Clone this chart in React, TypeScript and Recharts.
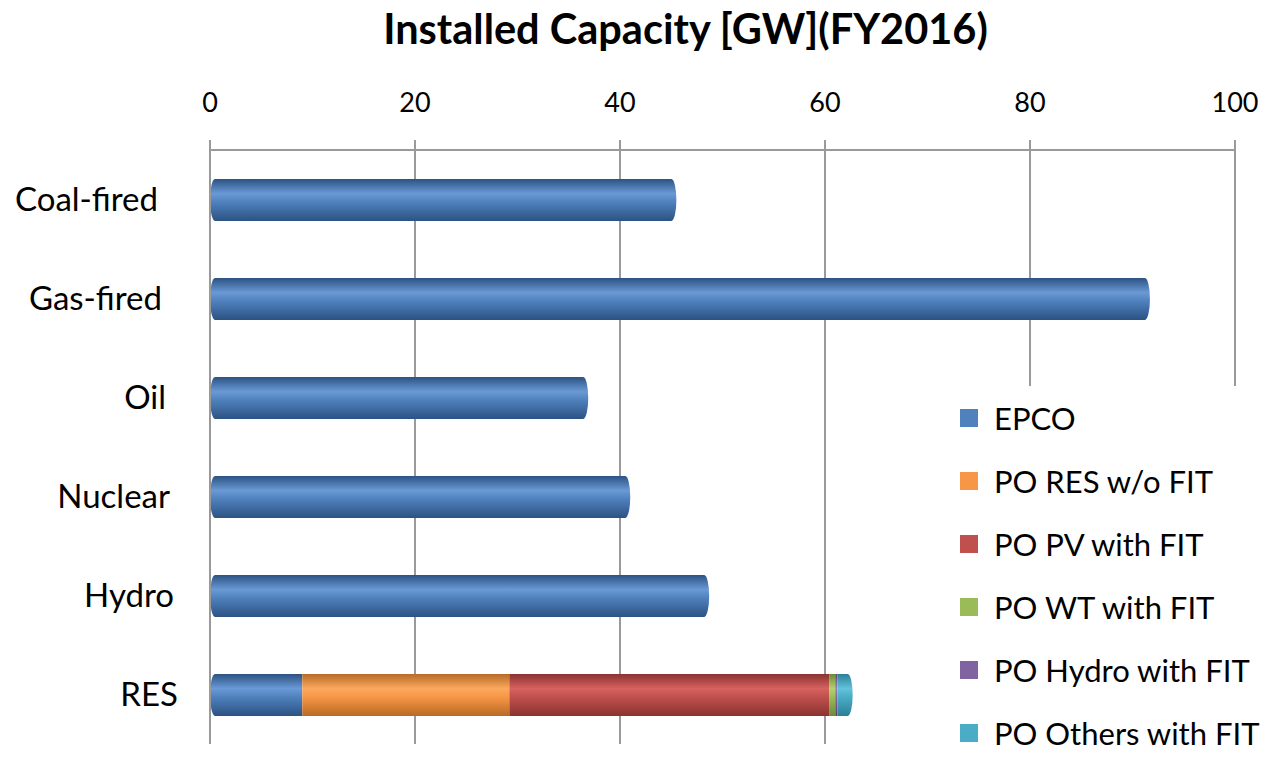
import { BarChart, Bar, XAxis, YAxis, CartesianGrid } from 'recharts'

const categories = ['Coal-fired', 'Gas-fired', 'Oil', 'Nuclear', 'Hydro', 'RES']
const epco = [45.5, 91.7, 36.9, 41, 48.7, 9]
const poResWoFit = [0, 0, 0, 0, 0, 20.2]
const poPvWithFit = [0, 0, 0, 0, 0, 31.2]
const poWtWithFit = [0, 0, 0, 0, 0, 0.6]
const poHydroWithFit = [0, 0, 0, 0, 0, 0.2]
const poOthersWithFit = [0, 0, 0, 0, 0, 1.5]
const xTicks = [0, 20, 40, 60, 80, 100]

const series = [
  { key: 'epco', name: 'EPCO', values: epco, color: '#4f81bd', light: '#6a9ad6', dark: '#2c5283' },
  { key: 'poResWoFit', name: 'PO RES w/o FIT', values: poResWoFit, color: '#f79646', light: '#fba95e', dark: '#b86a26' },
  { key: 'poPvWithFit', name: 'PO PV with FIT', values: poPvWithFit, color: '#c0504d', light: '#d7625f', dark: '#8a3330' },
  { key: 'poWtWithFit', name: 'PO WT with FIT', values: poWtWithFit, color: '#9bbb59', light: '#b3d170', dark: '#6c8a36' },
  { key: 'poHydroWithFit', name: 'PO Hydro with FIT', values: poHydroWithFit, color: '#8064a2', light: '#977bbb', dark: '#574275' },
  { key: 'poOthersWithFit', name: 'PO Others with FIT', values: poOthersWithFit, color: '#4bacc6', light: '#62c3dd', dark: '#2c7f96' },
]

const data = categories.map((c, i) => {
  const row: Record<string, string | number> = { category: c }
  series.forEach((s) => { row[s.key] = s.values[i] })
  return row
})

// cylinder-ish segment: gradient body, elliptical caps on the outer ends
function makeShape(idx: number) {
  return function CylinderShape(props: any) {
    const { x, y, width, height, payload } = props
    if (!width || width <= 0) return null
    const isFirst = idx === 0
    const isLast = series.slice(idx + 1).every((s) => !payload[s.key])
    const rx = Math.min(5, width / 2)
    const ry = height / 2
    const x2 = x + width
    let d = `M${x + (isFirst ? rx : 0)},${y} L${x2 - (isLast ? rx : 0)},${y}`
    d += isLast ? ` A${rx},${ry} 0 0 1 ${x2 - rx},${y + height}` : ` L${x2},${y + height}`
    d += ` L${x + (isFirst ? rx : 0)},${y + height}`
    d += isFirst ? ` A${rx},${ry} 0 0 1 ${x + rx},${y}` : ` L${x},${y}`
    d += ' Z'
    return <path d={d} fill={`url(#grad-${series[idx].key})`} />
  }
}

// labels drift right going down, like the tilted wall in the original
function CategoryTick({ x, y, payload, index }: any) {
  return (
    <text x={x - 44 + index * 4} y={y} dy={11} textAnchor="end" fontSize={33} fill="#000" fontFamily="Lato, sans-serif">
      {payload.value}
    </text>
  )
}

export default function App() {
  return (
    <div style={{ position: 'absolute', left: 0, top: 0, width: 1271, height: 759, background: '#fff' }}>
      <div
        style={{
          position: 'absolute', left: 100, top: 3, width: 1171, textAlign: 'center',
          fontFamily: 'Lato, sans-serif', fontWeight: 700, fontSize: 41.5, color: '#000',
        }}
      >
        Installed Capacity [GW](FY2016)
      </div>
      <BarChart
        width={1271}
        height={759}
        data={data}
        layout="vertical"
        barSize={42}
        margin={{ top: 90, right: 36, bottom: 15, left: 30 }}
      >
        <defs>
          {series.map((s) => (
            <linearGradient key={s.key} id={`grad-${s.key}`} x1="0" y1="0" x2="0" y2="1">
              <stop offset="0%" stopColor={s.dark} />
              <stop offset="35%" stopColor={s.light} />
              <stop offset="55%" stopColor={s.color} />
              <stop offset="100%" stopColor={s.dark} />
            </linearGradient>
          ))}
        </defs>
        <CartesianGrid horizontal={false} stroke="#9a9a9a" strokeWidth={2} />
        <XAxis
          type="number"
          orientation="top"
          domain={[0, 100]}
          ticks={xTicks}
          height={60}
          tickSize={10}
          stroke="#9a9a9a"
          strokeWidth={2}
          tick={{ fontSize: 27, fill: '#000', fontFamily: 'Lato, sans-serif', dy: -26 }}
        />
        <YAxis
          type="category"
          dataKey="category"
          width={180}
          stroke="#9a9a9a"
          strokeWidth={2}
          tickLine={false}
          tick={<CategoryTick />}
        />
        {series.map((s, i) => (
          <Bar
            key={s.key}
            dataKey={s.key}
            name={s.name}
            stackId="a"
            fill={s.color}
            shape={makeShape(i)}
            isAnimationActive={false}
          />
        ))}
      </BarChart>
      <div
        style={{
          position: 'absolute', left: 960, top: 386, background: '#fff',
          fontFamily: 'Lato, sans-serif', fontSize: 31, color: '#000',
        }}
      >
        {series.map((s) => (
          <div key={s.key} style={{ display: 'flex', alignItems: 'center', height: 63 }}>
            <span style={{ display: 'inline-block', width: 18, height: 18, background: s.color, marginRight: 16 }} />
            {s.name}
          </div>
        ))}
      </div>
    </div>
  )
}
